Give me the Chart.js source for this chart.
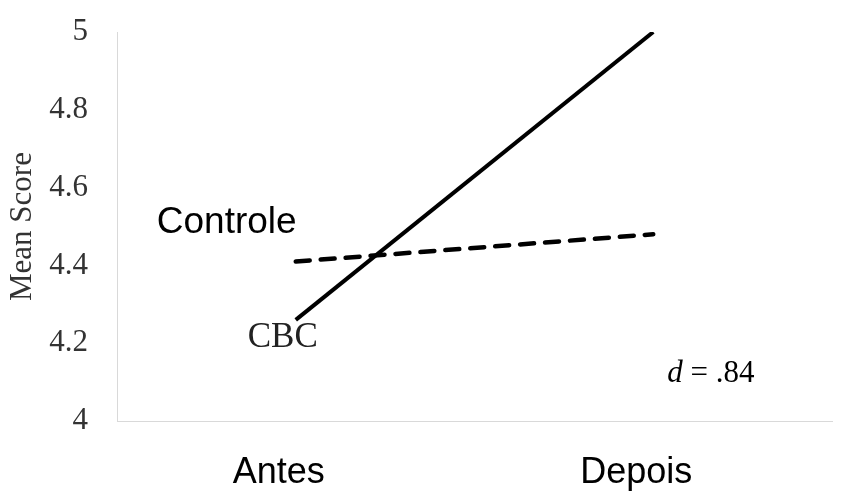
<!DOCTYPE html>
<html>
<head>
<meta charset="utf-8">
<script src="https://cdn.jsdelivr.net/npm/chart.js@4/dist/chart.umd.min.js"></script>
<style>
  html, body { margin: 0; padding: 0; background: #fff; }
  #wrap { width: 854px; height: 492px; }
</style>
</head>
<body>
<div id="wrap"><canvas id="chart-line"></canvas></div>
<script>
// data
var labels = ["Antes", "Depois"];
var cbc = [4.26, 5.0];
var controle = [4.41, 4.48];
var yTicks = [4, 4.2, 4.4, 4.6, 4.8, 5];

// text labels drawn on the plot
var notes = {
    controle: "Controle",
    cbc: "CBC",
    effect: ".84"
};

var serif = "'Liberation Serif', 'Times New Roman', serif";
var sans = "'Liberation Sans', Arial, sans-serif";

var notesPlugin = {
    id: 'notes',
    afterDatasetsDraw: function (chart) {
        var ctx = chart.ctx;
        var x = chart.scales.x, y = chart.scales.y;
        var x0 = x.getPixelForValue(0), x1 = x.getPixelForValue(1);
        ctx.save();
        ctx.fillStyle = '#000';
        ctx.textBaseline = 'alphabetic';
        ctx.textAlign = 'left';

        ctx.font = "37px " + sans;
        ctx.fillText(notes.controle, x0 - 139, y.getPixelForValue(4.483));

        ctx.font = "35px " + serif;
        ctx.fillStyle = '#222';
        ctx.fillText(notes.cbc, x0 - 48, y.getPixelForValue(4.19));

        // d = .84
        ctx.fillStyle = '#000';
        var ex = x1 + 14, ey = y.getPixelForValue(4.10);
        ctx.font = "italic 31px " + serif;
        ctx.fillText("d", ex, ey);
        var w = ctx.measureText("d").width;
        ctx.font = "31px " + serif;
        ctx.fillText(" = " + notes.effect, ex + w, ey);
        ctx.restore();
    }
};

var ctx = document.getElementById("chart-line");
var myLineChart = new Chart(ctx, {
    type: 'line',
    plugins: [notesPlugin],
    data: {
        labels: labels,
        datasets: [{
            label: "CBC",
            data: cbc,
            borderColor: "#000",
            borderWidth: 4,
            pointRadius: 0,
            fill: false,
        }, {
            label: "Controle",
            data: controle,
            borderColor: "#000",
            borderWidth: 4.5,
            borderDash: [14, 11],
            borderCapStyle: 'round',
            pointRadius: 0,
            fill: false,
        }]
    },
    options: {
        responsive: true,
        maintainAspectRatio: false,
        animation: false,
        layout: { autoPadding: false, padding: { top: 32, right: 22, bottom: 0, left: 0 } },
        plugins: {
            legend: { display: false },
            tooltip: { enabled: false }
        },
        scales: {
            x: {
                offset: true,
                afterFit: function (axis) { axis.height = 71; },
                grid: { display: false, drawTicks: false },
                border: { display: true, color: '#d9d9d9', width: 1 },
                ticks: {
                    color: '#000',
                    padding: 30,
                    labelOffset: -17,
                    font: { family: sans, size: 36 }
                }
            },
            y: {
                min: 4,
                max: 5,
                afterBuildTicks: function (axis) {
                    axis.ticks = yTicks.map(function (v) { return { value: v }; });
                },
                afterFit: function (axis) {
                    axis.width = 117;
                    axis.paddingTop = 0;
                    axis.paddingBottom = 0;
                },
                grid: { display: false, drawTicks: false },
                border: { display: true, color: '#d9d9d9', width: 1 },
                title: {
                    display: true,
                    text: 'Mean Score',
                    color: '#333',
                    padding: { top: 4, bottom: 8 },
                    font: { family: serif, size: 31 }
                },
                ticks: {
                    color: '#333',
                    padding: 29,
                    font: { family: serif, size: 31 },
                    callback: function (v) { return String(v); }
                }
            }
        }
    }
});
</script>
</body>
</html>
